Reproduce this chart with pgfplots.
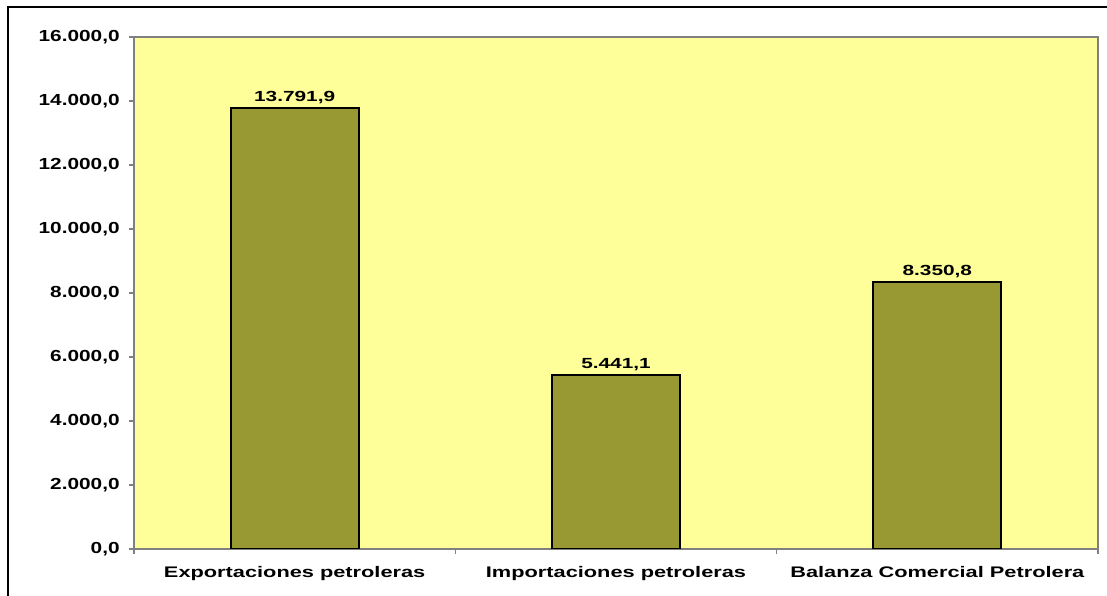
\documentclass[border=0pt]{standalone}
\usepackage{fontspec}
\setmainfont{Liberation Sans}
\newfontfamily\widey[FakeStretch=1.3]{Liberation Sans}
\newfontfamily\widex[FakeStretch=1.42]{Liberation Sans}
\newfontfamily\widen[FakeStretch=1.42]{Liberation Sans}
\usepackage{pgfplots}
\pgfplotsset{compat=1.18}
\definecolor{plotbg}{RGB}{255,255,153}
\definecolor{barfill}{RGB}{153,153,51}
\definecolor{axisgray}{RGB}{128,128,128}
\begin{document}
\begin{tikzpicture}
% page is 1107 x 596 px, 1 px = 0.75 pt
\useasboundingbox (0,0) rectangle (830.25pt,447pt);
\draw[black, line width=1pt] (6pt,-2pt) -- (6pt,441.75pt) -- (832pt,441.75pt);
\begin{axis}[
    at={(100.5pt,35.25pt)}, anchor=south west,
    scale only axis,
    width=723pt, height=384pt,
    ybar, bar width=96pt, bar shift=0pt,
    xmin=-0.5, xmax=2.5,
    ymin=0, ymax=16000,
    enlargelimits=false,
    axis background/.style={fill=plotbg},
    axis line style={axisgray, line width=1.2pt},
    tick align=outside,
    xtick pos=bottom, ytick pos=left,
    tick style={axisgray, line width=0.8pt},
    major tick length=3.75pt,
    minor tick length=3.75pt,
    xtick={0,1,2},
    xticklabels={Exportaciones petroleras, Importaciones petroleras, Balanza Comercial Petrolera},
    major x tick style={draw=none},
    minor xtick={-0.5,0.5,1.5,2.5},
    ytick={0,2000,...,16000},
    scaled y ticks=false,
    yticklabel style={font=\widey\bfseries\fontsize{12}{14}\selectfont, xshift=-3.5pt,
        /pgf/number format/.cd, fixed, fixed zerofill, precision=1, use comma, 1000 sep={.},
        assume math mode=true},
    xticklabel style={font=\widex\bfseries\fontsize{11.5}{13}\selectfont, yshift=-6pt},
    point meta=explicit symbolic,
    nodes near coords,
    nodes near coords style={font=\widen\bfseries\fontsize{11}{12}\selectfont, anchor=south, inner sep=2pt},
]
\addplot[fill=barfill, draw=black, line width=1.5pt] coordinates {
    (0,13791.9) [13.791,9]
    (1,5441.1) [5.441,1]
    (2,8350.8) [8.350,8]
};
\end{axis}
\end{tikzpicture}
\end{document}
